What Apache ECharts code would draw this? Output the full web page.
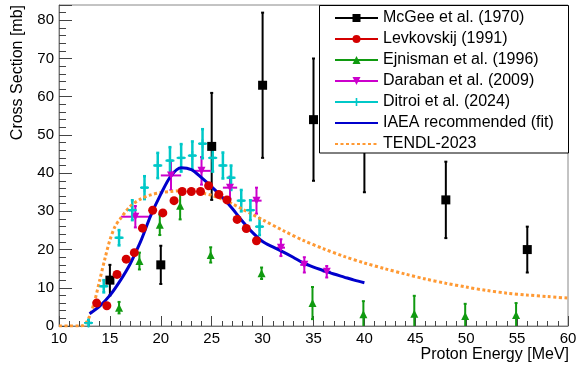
<!DOCTYPE html>
<html>
<head>
<meta charset="utf-8">
<script src="https://cdn.jsdelivr.net/npm/echarts@6/dist/echarts.min.js"></script>
<style>
  html, body { margin: 0; padding: 0; background: #fff; }
  #chart { width: 582px; height: 367px; }
</style>
</head>
<body>
<div id="chart"></div>
<script>
// McGee et al. (1970)
const mcgeeE = [15, 20, 25, 30, 35, 40, 48, 56];
const mcgeeXS = [12, 16, 47, 63, 54, 50, 33, 20];
const mcgeeErr = [4, 5, 14, 19, 16, 15, 10, 6];

// Levkovskij (1991)
const levE = [13.7, 14.7, 15.7, 16.6, 17.4, 18.2, 19.2, 20.2, 21.3, 22.1, 23.0, 23.9, 24.7, 25.7, 26.5, 27.5, 28.4, 29.4];
const levXS = [6.0, 5.3, 13.5, 17.5, 19.2, 25.6, 30.3, 29.6, 32.8, 35.2, 35.2, 35.2, 36.7, 34.4, 33.0, 27.9, 25.5, 22.3];

// Ejnisman et al. (1996)
const ejnE = [15.9, 17.9, 19.9, 21.9, 24.9, 29.9, 34.9, 39.9, 44.9, 49.9, 54.9];
const ejnXS = [4.8, 17.0, 26.5, 31.5, 18.6, 13.8, 6.0, 3.1, 3.2, 2.6, 2.9];
const ejnErr = [1.5, 2.2, 2.7, 3.6, 2.0, 1.5, 4.2, 3.4, 4.7, 3.2, 3.1];

// Daraban et al. (2009)
const darE = [17.5, 21.0, 24.0, 26.8, 29.4, 31.8, 34.1, 36.3];
const darXS = [28.6, 39.4, 40.6, 36.2, 32.8, 20.5, 16.0, 14.2];
const darYErr = [2.8, 3.8, 3.6, 2.9, 3.4, 2.2, 2.0, 1.5];
const darXErr = [1.4, 1.0, 0.9, 0.7, 0.5, 0.4, 0.4, 0.4];

// Ditroi et al. (2024)
const ditE = [12.9, 14.4, 15.9, 17.2, 18.4, 19.7, 20.9, 22.0, 23.1, 24.1, 25.1, 26.1, 26.9, 27.9, 28.8, 29.7];
const ditXS = [0.8, 10.4, 23.1, 30.3, 36.2, 42.0, 43.3, 44.0, 44.6, 47.7, 44.0, 42.0, 38.8, 32.8, 30.3, 26.0];
const ditYErr = [0.8, 1.6, 2.0, 2.6, 3.0, 3.3, 3.5, 3.6, 3.7, 3.8, 3.6, 3.4, 3.2, 2.8, 2.6, 2.2];
const ditXErr = [0.35, 0.35, 0.35, 0.35, 0.35, 0.35, 0.35, 0.35, 0.35, 0.35, 0.35, 0.35, 0.35, 0.35, 0.35, 0.35];

// IAEA recommended (fit)
const fitE = [13, 14, 15, 16, 17, 18, 19, 20, 21, 22, 23, 24, 25, 26, 27, 28, 29, 30, 31, 32, 33, 34, 35, 36, 37, 38, 39, 40];
const fitXS = [3.2, 5.2, 8.0, 11.8, 16.3, 22.0, 28.8, 34.5, 39.3, 41.4, 40.9, 38.8, 36.4, 33.8, 30.8, 27.5, 24.5, 22.1, 20.7, 19.4, 18.0, 16.5, 15.4, 14.5, 13.6, 12.8, 12.0, 11.3];

// TENDL-2023
const tendlE = [10, 11, 12, 12.5, 13, 13.5, 14, 14.5, 15, 15.5, 16, 17, 18, 19, 20, 21, 22, 23, 24, 25, 26, 27, 28, 29, 30, 32, 34, 36, 38, 40, 42, 44, 46, 48, 50, 52, 54, 56, 58, 60];
const tendlXS = [0, 0, 0, 0.3, 2.5, 6.5, 12.0, 17.5, 22.5, 26.0, 28.0, 31.3, 33.2, 34.3, 34.9, 35.2, 35.4, 35.2, 34.8, 34.2, 33.2, 32.0, 30.6, 29.2, 27.8, 25.0, 22.4, 20.2, 18.2, 16.5, 15.0, 13.6, 12.3, 11.2, 10.2, 9.3, 8.6, 8.1, 7.7, 7.3];

const FONT = 'Liberation Sans';
const names = ['McGee et al. (1970)', 'Levkovskij (1991)', 'Ejnisman et al. (1996)', 'Daraban et al. (2009)', 'Ditroi et al. (2024)', 'IAEA recommended (fit)', 'TENDL-2023'];
const PLUS = 'path://M4,0H6V4H10V6H6V10H4V6H0V4H4Z';

const zip = (xs, ys) => xs.map((x, i) => [x, ys[i]]);

function errorSeries(color, xs, ys, yerr, xerr, width) {
  return {
    type: 'custom',
    z: 2,
    silent: true,
    data: xs.map((x, i) => [x, ys[i], yerr[i], xerr ? xerr[i] : 0]),
    encode: { x: 0, y: 1 },
    renderItem: (params, api) => {
      const x = api.value(0), y = api.value(1), ey = api.value(2), ex = api.value(3);
      const style = { stroke: color, lineWidth: width };
      const lo = api.coord([x, Math.max(0, y - ey)]);
      const hi = api.coord([x, y + ey]);
      const kids = [
        { type: 'line', shape: { x1: lo[0], y1: lo[1], x2: hi[0], y2: hi[1] }, style },
        { type: 'line', shape: { x1: hi[0] - 1.5, y1: hi[1], x2: hi[0] + 1.5, y2: hi[1] }, style }
      ];
      if (y - ey > 0) {
        kids.push({ type: 'line', shape: { x1: lo[0] - 1.5, y1: lo[1], x2: lo[0] + 1.5, y2: lo[1] }, style });
      }
      if (ex > 0) {
        const l = api.coord([x - ex, y]), r = api.coord([x + ex, y]);
        kids.push({ type: 'line', shape: { x1: l[0], y1: l[1], x2: r[0], y2: r[1] }, style });
      }
      return { type: 'group', children: kids };
    }
  };
}

function markerSeries(name, color, symbol, size, xs, ys) {
  return {
    name, type: 'line', z: 3,
    data: zip(xs, ys),
    symbol, symbolSize: size, showSymbol: true,
    itemStyle: { color },
    lineStyle: { color, width: 2, opacity: 0 },
    emphasis: { disabled: true }
  };
}

const chart = echarts.init(document.getElementById('chart'));
chart.setOption({
  animation: false,
  textStyle: { fontFamily: FONT },
  grid: { left: 59, right: 14, top: 5, bottom: 41, show: true, borderColor: '#888', borderWidth: 1 },
  xAxis: {
    type: 'value', min: 10, max: 60, interval: 5,
    axisLine: { show: true, lineStyle: { color: '#777', width: 1 } },
    axisTick: { inside: true, length: 10, lineStyle: { color: '#444' } },
    minorTick: { show: true, splitNumber: 5, length: 5, lineStyle: { color: '#444' } },
    splitLine: { show: false },
    axisLabel: { fontFamily: FONT, fontSize: 15, color: '#000', margin: 5 }
  },
  yAxis: {
    type: 'value', min: 0, max: 84, interval: 10,
    axisLine: { show: true, lineStyle: { color: '#777', width: 1 } },
    axisTick: { inside: true, length: 13, lineStyle: { color: '#444' } },
    minorTick: { show: true, splitNumber: 5, length: 7, lineStyle: { color: '#444' } },
    splitLine: { show: false },
    axisLabel: { fontFamily: FONT, fontSize: 15, color: '#000', margin: 5, formatter: v => (v > 80 ? '' : v) }
  },
  legend: {
    orient: 'vertical', left: 329, top: 5, z: 6,
    itemWidth: 43, itemHeight: 10, itemGap: 5,
    selectedMode: false,
    lineStyle: { opacity: 1 },
    textStyle: { fontFamily: FONT, fontSize: 16, color: '#000', lineHeight: 16 },
    data: names.map((n, i) => (i >= 5 ? { name: n, itemStyle: { opacity: 0 } } : n))
  },
  graphic: [
    { type: 'rect', z: 5, silent: true, shape: { x: 319.5, y: 5.5, width: 249, height: 147.5 },
      style: { fill: '#fff', stroke: '#000', lineWidth: 1 } },
    { type: 'text', x: 18, y: 5, rotation: Math.PI / 2, silent: true,
      style: { text: 'Cross Section [mb]', font: '16px ' + FONT, fill: '#000', align: 'right', verticalAlign: 'middle' } },
    { type: 'text', x: 569, y: 355, silent: true,
      style: { text: 'Proton Energy [MeV]', font: '16px ' + FONT, fill: '#000', align: 'right', verticalAlign: 'middle' } }
  ],
  series: [
    errorSeries('#000', mcgeeE, mcgeeXS, mcgeeErr, null, 2),
    errorSeries('#109a10', ejnE, ejnXS, ejnErr, null, 2),
    errorSeries('#cc00cc', darE, darXS, darYErr, darXErr, 2),
    errorSeries('#00c8c8', ditE, ditXS, ditYErr, ditXErr, 2.5),
    {
      name: names[6], type: 'line', z: 3, smooth: 0.3, symbol: 'none',
      data: zip(tendlE, tendlXS),
      lineStyle: { color: '#ff9933', width: 3, type: [3, 2.5] },
      itemStyle: { color: '#ff9933' }
    },
    markerSeries(names[0], '#000', 'rect', 9, mcgeeE, mcgeeXS),
    markerSeries(names[1], '#d40000', 'circle', 9, levE, levXS),
    markerSeries(names[2], '#109a10', 'triangle', 8, ejnE, ejnXS),
    { ...markerSeries(names[3], '#cc00cc', 'triangle', 8, darE, darXS), symbolRotate: 180 },
    markerSeries(names[4], '#00c8c8', PLUS, 9, ditE, ditXS),
    {
      name: names[5], type: 'line', z: 3, smooth: 0.3, symbol: 'none',
      data: zip(fitE, fitXS),
      lineStyle: { color: '#0000cc', width: 3 },
      itemStyle: { color: '#0000cc' }
    }
  ]
});
</script>
</body>
</html>
